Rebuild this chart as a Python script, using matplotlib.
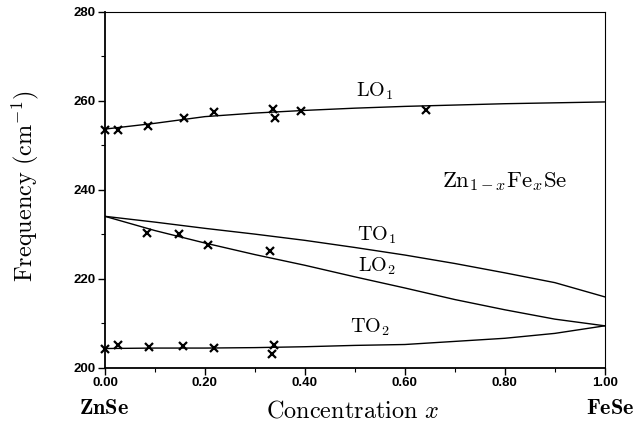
import numpy as np
import matplotlib.pyplot as plt

plt.rcParams['mathtext.fontset'] = 'cm'

# --- data ---
# fitted curves
x_curve = [0.00, 0.10, 0.20, 0.30, 0.40, 0.50, 0.60, 0.70, 0.80, 0.90, 1.00]
lo1_curve = [253.6, 254.9, 256.4, 257.2, 257.8, 258.3, 258.7, 259.0, 259.3, 259.5, 259.7]
to1_curve = [234.0, 232.7, 231.3, 230.0, 228.6, 227.0, 225.3, 223.4, 221.3, 219.1, 215.9]
lo2_curve = [234.0, 230.8, 228.0, 225.4, 223.0, 220.4, 217.9, 215.3, 213.0, 210.9, 209.4]
to2_curve = [204.3, 204.4, 204.4, 204.5, 204.7, 205.0, 205.2, 205.9, 206.6, 207.7, 209.4]

# measured points
x_lo1 = [0.00, 0.027, 0.087, 0.158, 0.218, 0.336, 0.340, 0.392, 0.642]
y_lo1 = [253.3, 253.3, 254.4, 256.1, 257.5, 258.1, 256.1, 257.6, 257.8]

x_lo2 = [0.085, 0.148, 0.207, 0.330]
y_lo2 = [230.3, 230.1, 227.6, 226.1]

x_to2 = [0.00, 0.026, 0.088, 0.157, 0.218, 0.339, 0.335]
y_to2 = [204.2, 205.1, 204.7, 204.9, 204.5, 205.1, 203.0]

fig = plt.figure(figsize=(6.36, 4.29), dpi=100)
ax = fig.add_axes([0.165, 0.143, 0.786, 0.830])

for yc in [lo1_curve, to1_curve, lo2_curve, to2_curve]:
    ax.plot(x_curve, yc, color='black', lw=1.0)

for xs, ys in [(x_lo1, y_lo1), (x_lo2, y_lo2), (x_to2, y_to2)]:
    ax.plot(xs, ys, ls='none', marker='x', ms=6, mew=1.6, color='black',
            clip_on=False, zorder=5)

ax.set_xlim(0, 1)
ax.set_ylim(200, 280)
ax.set_xticks([0.0, 0.2, 0.4, 0.6, 0.8, 1.0])
ax.set_xticks(np.arange(0.1, 1.0, 0.2), minor=True)
ax.set_yticks([200, 220, 240, 260, 280])
ax.set_yticks([210, 230, 250, 270], minor=True)
ax.set_xticklabels(['0.00', '0.20', '0.40', '0.60', '0.80', '1.00'])
ax.set_yticklabels(['200', '220', '240', '260', '280'])

for lab in ax.get_xticklabels() + ax.get_yticklabels():
    lab.set_fontfamily('Liberation Sans')
    lab.set_fontweight('bold')
    lab.set_fontsize(9.5)

ax.tick_params(which='major', direction='out', length=5, width=1.0, pad=1.5)
ax.tick_params(which='minor', direction='out', length=3, width=0.8)
for side in ['left', 'bottom']:
    ax.spines[side].set_linewidth(1.3)
for side in ['top', 'right']:
    ax.spines[side].set_linewidth(0.8)

# axis titles and end-member names
fig.text(0.040, 0.566, r'$\mathrm{Frequency\ (cm^{-1})}$', fontsize=17.5,
         rotation=90, ha='center', va='center')
fig.text(0.554, 0.044, r'$\mathrm{Concentration}\ x$', fontsize=17.5,
         ha='center', va='center')
fig.text(0.163, 0.05, r'$\mathbf{ZnSe}$', fontsize=16, ha='center', va='center')
fig.text(0.959, 0.05, r'$\mathbf{FeSe}$', fontsize=16, ha='center', va='center')

# mode labels
ax.text(0.54, 262.2, r'$\mathrm{LO}_1$', fontsize=14.5, ha='center', va='center')
ax.text(0.544, 229.8, r'$\mathrm{TO}_1$', fontsize=14.5, ha='center', va='center')
ax.text(0.544, 222.8, r'$\mathrm{LO}_2$', fontsize=14.5, ha='center', va='center')
ax.text(0.53, 209.0, r'$\mathrm{TO}_2$', fontsize=14.5, ha='center', va='center')
ax.text(0.80, 241.8, r'$\mathrm{Zn}_{1-x}\mathrm{Fe}_x\mathrm{Se}$', fontsize=16.5,
        ha='center', va='center')

fig.savefig('out.png', dpi=100)
